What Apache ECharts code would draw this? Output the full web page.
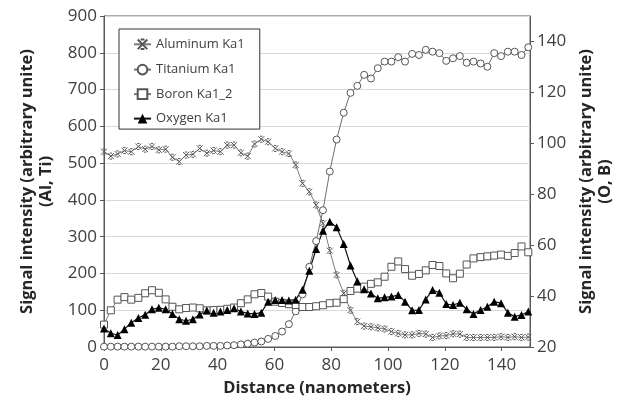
<!DOCTYPE html>
<html>
<head>
<meta charset="utf-8">
<script src="https://cdn.jsdelivr.net/npm/echarts@6/dist/echarts.min.js"></script>
<style>
  html, body { margin: 0; padding: 0; background: #fff; }
  #container { width: 622px; height: 401px; }
</style>
</head>
<body>
<div id="container"></div>
<script>
var dom = document.getElementById("container");
var myChart = echarts.init(dom);

// distance along the profile (nm)
var distance = [0, 2.4, 4.8, 7.2, 9.6, 12.1, 14.5, 16.9, 19.3, 21.7, 24.1, 26.5, 28.9, 31.3, 33.7, 36.2,
    38.6, 41.0, 43.4, 45.8, 48.2, 50.6, 53.0, 55.4, 57.8, 60.3, 62.7, 65.1, 67.5, 69.9, 72.3, 74.7,
    77.1, 79.5, 81.9, 84.4, 86.8, 89.2, 91.6, 94.0, 96.4, 98.8, 101.2, 103.6, 106.0, 108.5, 110.9,
    113.3, 115.7, 118.1, 120.5, 122.9, 125.3, 127.7, 130.1, 132.6, 135.0, 137.4, 139.8, 142.2, 144.6,
    147.0, 149.4];

// left axis (Al, Ti)
var aluminum = [531, 519, 525, 534, 531, 545, 538, 545, 536, 538, 516, 504, 522, 524, 540, 527,
    534, 531, 549, 549, 528, 519, 552, 565, 558, 540, 531, 526, 495, 445, 422, 386,
    336, 262, 196, 146, 100, 69, 57, 55, 52, 49, 42, 37, 33, 33, 37,
    35, 26, 30, 31, 36, 35, 26, 26, 26, 26, 26, 28, 26, 28,
    26, 27];
var titanium = [1, 1, 1, 1, 1, 1, 1, 1, 1, 1, 1, 2, 2, 2, 2, 3,
    3, 3, 4, 5, 7, 9, 12, 15, 22, 30, 42, 62, 97, 143, 218, 288,
    372, 477, 564, 637, 691, 710, 740, 730, 758, 776, 776, 788, 776, 797, 794,
    808, 803, 799, 778, 785, 791, 773, 776, 771, 762, 799, 791, 803, 803,
    794, 815];

// right axis (O, B)
var boron = [28.8, 34.4, 38.6, 39.6, 38.6, 39.3, 41.1, 42.3, 41.3, 38.7, 35.8, 34.8, 35.3, 35.5, 35.2, 34.4,
    34.5, 34.6, 35.0, 35.5, 37.2, 38.7, 40.7, 41.2, 39.8, 37.8, 37.3, 36.8, 36.5, 35.7, 35.7, 36.0,
    36.4, 37.2, 37.4, 38.8, 42.0, 42.9, 43.7, 44.8, 45.4, 47.6, 51.5, 53.6, 50.6, 48.0, 48.7,
    50.1, 52.2, 51.8, 48.9, 47.0, 48.8, 52.4, 54.8, 55.3, 55.6, 55.9, 56.3, 55.8, 56.9,
    59.5, 57.2];
var oxygen = [27.3, 25.4, 24.7, 27.0, 29.5, 31.4, 32.7, 34.8, 35.4, 34.8, 33.0, 30.9, 30.3, 30.9, 32.8, 34.3,
    33.5, 33.9, 34.5, 35.2, 33.9, 33.2, 33.0, 33.5, 37.8, 38.5, 38.5, 38.3, 38.6, 42.5, 49.9, 58.5,
    65.7, 69.2, 67.0, 60.5, 52.0, 45.8, 42.7, 41.0, 39.1, 39.5, 39.8, 40.4, 37.8, 34.4, 34.5,
    38.7, 42.4, 41.3, 36.9, 36.5, 37.4, 34.8, 33.0, 34.5, 35.8, 37.8, 37.2, 33.5, 31.9,
    32.6, 33.9];

var seriesNames = ['Aluminum Ka1', 'Titanium Ka1', 'Boron Ka1_2', 'Oxygen Ka1'];

function pairs(values) {
    return values.map(function (v, i) {
        return [distance[i], v];
    });
}

var labelFont = {
    color: '#404040',
    fontSize: 17,
    fontFamily: 'Open Sans'
};
var nameFont = {
    color: '#262626',
    fontSize: 16.5,
    fontWeight: 'bold',
    fontFamily: 'Open Sans',
    lineHeight: 19
};

var option = {
    animation: false,
    grid: {
        left: 104,
        right: 92,
        top: 16,
        bottom: 54,
        outerBoundsMode: 'none',
        containLabel: false,
        show: true,
        borderColor: '#595959',
        borderWidth: 1
    },
    legend: {
        orient: 'vertical',
        left: 119,
        top: 29,
        padding: [8, 15, 4, 14],
        itemWidth: 17,
        itemHeight: 12,
        itemGap: 11.5,
        borderColor: '#333',
        borderWidth: 1,
        backgroundColor: '#fff',
        textStyle: {
            color: '#404040',
            fontSize: 13,
            fontFamily: 'Open Sans'
        },
        data: seriesNames
    },
    xAxis: {
        type: 'value',
        min: 0,
        max: 150,
        interval: 20,
        name: 'Distance (nanometers)',
        nameLocation: 'middle',
        nameGap: 25,
        nameTextStyle: nameFont,
        axisLine: { lineStyle: { color: '#595959' } },
        axisTick: { show: true, length: 4, lineStyle: { color: '#595959' } },
        axisLabel: Object.assign({ margin: 10, showMaxLabel: false }, labelFont),
        splitLine: { show: false }
    },
    yAxis: [{
        type: 'value',
        position: 'left',
        min: 0,
        max: 900,
        interval: 100,
        name: 'Signal intensity (arbitrary unite)\n(Al, Ti)',
        nameLocation: 'middle',
        nameGap: 48,
        nameTextStyle: nameFont,
        axisLine: { show: true, lineStyle: { color: '#595959' } },
        axisTick: { show: true, length: 4, lineStyle: { color: '#595959' } },
        axisLabel: Object.assign({ margin: 7 }, labelFont),
        splitLine: { show: true, lineStyle: { color: '#d9d9d9', width: 1 } }
    }, {
        type: 'value',
        position: 'right',
        min: 20,
        max: 150,
        interval: 20,
        name: 'Signal intensity (arbitrary unite)\n(O, B)',
        nameLocation: 'middle',
        nameGap: 43,
        nameTextStyle: nameFont,
        axisLine: { show: true, lineStyle: { color: '#595959' } },
        axisTick: { show: true, length: 4, lineStyle: { color: '#595959' } },
        axisLabel: Object.assign({ margin: 7, showMaxLabel: false }, labelFont),
        splitLine: { show: false }
    }],
    series: [{
        name: seriesNames[0],
        type: 'line',
        yAxisIndex: 0,
        data: pairs(aluminum),
        symbol: 'path://M0,0L10,10M10,0L0,10M3,0L7,0M3,10L7,10',
        symbolSize: 6,
        lineStyle: { color: '#7a7a7a', width: 1 },
        itemStyle: { color: 'none', borderColor: '#555', borderWidth: 1 }
    }, {
        name: seriesNames[1],
        type: 'line',
        yAxisIndex: 0,
        data: pairs(titanium),
        symbol: 'circle',
        symbolSize: 7,
        lineStyle: { color: '#6e6e6e', width: 1 },
        itemStyle: { color: '#fff', borderColor: '#555', borderWidth: 1 }
    }, {
        name: seriesNames[2],
        type: 'line',
        yAxisIndex: 1,
        data: pairs(boron),
        symbol: 'rect',
        symbolSize: 7,
        lineStyle: { color: '#7a7a7a', width: 1 },
        itemStyle: { color: '#fff', borderColor: '#555', borderWidth: 1 }
    }, {
        name: seriesNames[3],
        type: 'line',
        yAxisIndex: 1,
        data: pairs(oxygen),
        symbol: 'triangle',
        symbolSize: 8,
        lineStyle: { color: '#111', width: 1.2 },
        itemStyle: { color: '#000', borderColor: '#000', borderWidth: 0 }
    }]
};

myChart.setOption(option);
</script>
</body>
</html>
